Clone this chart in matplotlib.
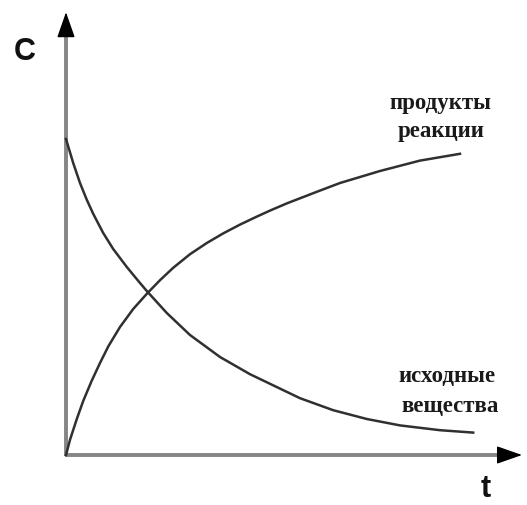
import matplotlib
matplotlib.use("Agg")
from matplotlib import pyplot

# time axis and concentrations of both curves
t_start = [0.0, 0.18, 0.35, 0.52, 0.68, 0.93, 1.18, 1.52, 1.85, 2.02, 2.52,
           3.1, 3.85, 4.6, 5.85, 6.68, 7.52, 8.35, 9.35, 10.18]
c_start = [7.9, 7.3, 6.8, 6.38, 6.03, 5.55, 5.15, 4.7, 4.3, 4.1, 3.55,
           3.0, 2.45, 2.02, 1.42, 1.12, 0.9, 0.74, 0.62, 0.56]

t_prod = [0.0, 0.1, 0.27, 0.43, 0.64, 0.85, 1.06, 1.35, 1.68, 2.02, 2.35,
          2.68, 3.1, 3.52, 3.93, 4.35, 4.77, 5.1, 5.52, 6.27, 6.85, 7.85,
          8.85, 9.85]
c_prod = [0.0, 0.38, 0.9, 1.35, 1.85, 2.3, 2.72, 3.2, 3.65, 4.03, 4.37,
          4.68, 5.02, 5.3, 5.54, 5.76, 5.96, 6.11, 6.29, 6.58, 6.8, 7.1,
          7.36, 7.53]

t_max = 11.4
c_max = 11.07

fig = pyplot.figure(figsize=(5.27, 5.05), dpi=100)
ax = fig.add_axes([0, 0, 1, 1])
ax.set_xlim(-1.65, 11.525)
ax.set_ylim(-1.25, 11.375)
ax.axis("off")

# axes drawn as grey lines with black arrow heads
ax.plot([-0.03, t_max - 0.3], [0, 0], color="#858585", lw=2.8, solid_capstyle="butt")
ax.plot([0, 0], [-0.03, c_max - 0.3], color="#858585", lw=2.8, solid_capstyle="butt")
head = dict(arrowstyle="-|>,head_length=0.8,head_width=0.28", color="black",
            lw=1, mutation_scale=20, shrinkA=0, shrinkB=0)
ax.annotate("", xy=(t_max, 0), xytext=(t_max - 0.6, 0), arrowprops=head)
ax.annotate("", xy=(0, c_max), xytext=(0, c_max - 0.6), arrowprops=head)

ax.plot(t_start, c_start, color="#303030", lw=1.8, solid_joinstyle="round")
ax.plot(t_prod, c_prod, color="#303030", lw=1.8, solid_joinstyle="round")

ax.text(-1.03, 10.07, "C", fontsize=22, ha="center", va="center",
        family="Liberation Sans", fontweight="bold", color="#111111")
ax.text(10.48, -0.86, "t", fontsize=22, ha="center", va="center",
        family="Liberation Sans", fontweight="bold", color="#111111")

serif = dict(fontsize=16.5, fontweight="bold", family="Liberation Serif",
             ha="center", va="center", color="#1a1a1a")
ax.text(9.35, 8.78, "продукты", **serif)
ax.text(9.38, 8.08, "реакции", **serif)
ax.text(9.53, 1.95, "исходные", **serif)
ax.text(9.6, 1.2, "вещества", **serif)

fig.savefig("out.png", dpi=100)
